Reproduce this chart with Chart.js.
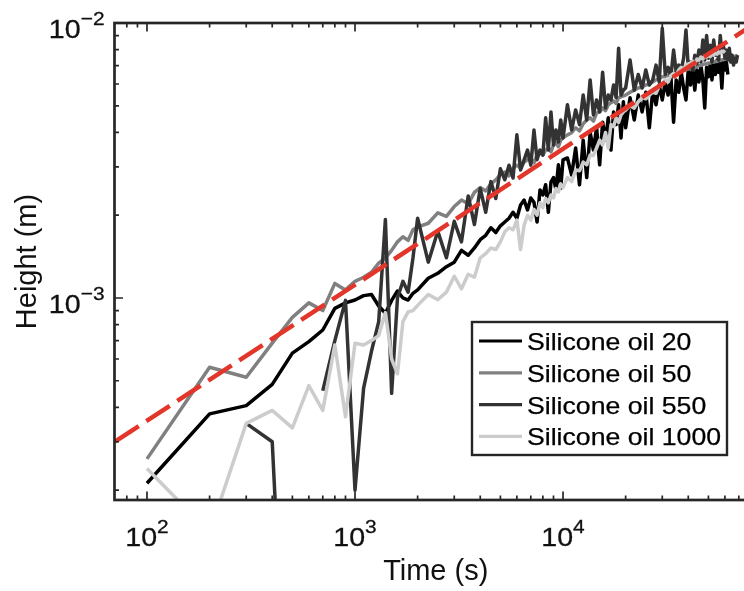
<!DOCTYPE html>
<html><head><meta charset="utf-8">
<script src="https://cdn.jsdelivr.net/npm/chart.js@4/dist/chart.umd.min.js"></script>
<style>html,body{margin:0;padding:0;background:#fff;overflow:hidden;width:744px;height:591px}canvas{display:block}</style>
</head><body>
<canvas id="c" width="800" height="591"></canvas>
<script>
// ---------- data (time in s, height in m) ----------
const TIME = [100,200,300,400,500,600,700,800,900,1000,1100,1200,1300,1400,1500,1600,1700,1800,1900,2000,
2250,2500,2750,3000,3250,3500,3750,4000,4250,4500,4750,5000,5250,5500,5750,6000,6250,6500,6750,7000,7250,7500,7750,8000,8250,8500,8750,9000,9250,9500,9750,10000,
10500,11000,11500,12000,12500,13000,13500,14000,14500,15000,15500,16000,16500,17000,17500,18000,18500,19000,19500,20000,
21000,22000,23000,24000,25000,26000,27000,28000,29000,30000,31000,32000,33000,34000,35000,36000,37000,38000,39000,40000,41000,42000,43000,44000,45000,46000,47000,48000,49000,50000,51000,52000,53000,54000,55000,56000,57000,58000,59000,60000,61000,62000,63000,64000,65000,66000,67000,68000,69000];

const H_OIL20 = [2.12e-4,3.79e-4,4.06e-4,4.85e-4,6.3e-4,6.94e-4,7.65e-4,9.17e-4,9.6e-4,9.83e-4,1.02e-3,1.03e-3,9.35e-4,8.8e-4,9.8e-4,1.06e-3,1.0e-3,9.83e-4,1.04e-3,1.07e-3,
1.18e-3,1.23e-3,1.30e-3,1.35e-3,1.49e-3,1.43e-3,1.52e-3,1.63e-3,1.69e-3,1.80e-3,1.73e-3,1.83e-3,1.89e-3,1.95e-3,2.05e-3,1.95e-3,2.18e-3,2.27e-3,2.09e-3,2.31e-3,2.23e-3,1.89e-3,2.47e-3,2.37e-3,2.58e-3,2.05e-3,2.64e-3,2.74e-3,2.47e-3,3.05e-3,2.51e-3,3.18e-3,
3.23e-3,2.80e-3,3.51e-3,2.58e-3,3.75e-3,2.74e-3,4.0e-3,3.45e-3,4.16e-3,3.05e-3,4.36e-3,3.75e-3,4.52e-3,3.45e-3,4.75e-3,4.27e-3,5.04e-3,3.82e-3,5.17e-3,4.16e-3,
5.35e-3,4.44e-3,5.47e-3,4.75e-3,5.6e-3,4.16e-3,5.7e-3,5.04e-3,5.95e-3,5.25e-3,6.1e-3,5.47e-3,6.38e-3,4.36e-3,6.21e-3,5.6e-3,6.62e-3,5.8e-3,5.25e-3,6.75e-3,5.95e-3,6.9e-3,5.7e-3,6.75e-3,6.1e-3,7.0e-3,6.21e-3,4.91e-3,6.9e-3,6.38e-3,7.1e-3,6.21e-3,7.21e-3,6.5e-3,7.33e-3,6.62e-3,7.21e-3,5.8e-3,7.33e-3,6.75e-3,7.21e-3,6.5e-3,null,null,null,null,null,null,null];

const H_OIL50 = [2.6e-4,5.6e-4,5.15e-4,6.85e-4,8.5e-4,9.6e-4,9.0e-4,1.13e-3,1.07e-3,1.15e-3,1.19e-3,1.24e-3,1.34e-3,1.40e-3,1.49e-3,1.6e-3,1.67e-3,1.62e-3,1.77e-3,1.81e-3,
1.87e-3,2.04e-3,1.98e-3,2.15e-3,2.27e-3,2.2e-3,2.42e-3,2.52e-3,2.45e-3,2.60e-3,2.69e-3,2.81e-3,2.87e-3,2.78e-3,2.97e-3,3.04e-3,2.97e-3,3.12e-3,3.18e-3,3.23e-3,3.1e-3,3.31e-3,3.37e-3,3.31e-3,3.45e-3,3.51e-3,3.4e-3,3.6e-3,3.66e-3,3.55e-3,3.75e-3,3.82e-3,
3.92e-3,3.99e-3,4.16e-3,4.05e-3,4.3e-3,4.44e-3,4.52e-3,4.4e-3,4.71e-3,4.75e-3,4.91e-3,4.8e-3,5.04e-3,5.13e-3,5.21e-3,5.1e-3,5.35e-3,5.39e-3,5.43e-3,5.47e-3,
5.6e-3,5.7e-3,5.8e-3,5.85e-3,5.95e-3,6.0e-3,6.1e-3,6.21e-3,6.27e-3,6.38e-3,6.4e-3,6.45e-3,6.5e-3,6.55e-3,6.6e-3,6.62e-3,6.7e-3,6.75e-3,6.75e-3,6.8e-3,6.85e-3,6.9e-3,6.9e-3,6.95e-3,7.0e-3,7.0e-3,7.05e-3,7.1e-3,7.1e-3,7.15e-3,7.15e-3,7.2e-3,7.2e-3,7.25e-3,7.25e-3,7.3e-3,7.3e-3,7.35e-3,7.35e-3,7.4e-3,7.4e-3,7.45e-3,7.45e-3,7.5e-3,7.5e-3,7.55e-3,7.55e-3,7.6e-3,7.6e-3];

const H_OIL550 = [null,null,3.5e-4,3.0e-4,1e-5,null,4.6e-4,7.0e-4,9.8e-4,2.0e-4,4.7e-4,6.4e-4,8.2e-4,1.93e-3,4.5e-4,1.0e-3,1.15e-3,1.05e-3,1.4e-3,1.95e-3,
1.35e-3,1.75e-3,1.4e-3,1.9e-3,1.6e-3,2.35e-3,1.85e-3,2.5e-3,2.05e-3,2.65e-3,2.3e-3,2.95e-3,2.69e-3,3.04e-3,2.73e-3,3.92e-3,2.92e-3,3.18e-3,3.45e-3,3.04e-3,4.08e-3,3.18e-3,3.45e-3,3.31e-3,4.52e-3,3.45e-3,4.75e-3,3.6e-3,4.08e-3,3.69e-3,4.44e-3,3.82e-3,
5.04e-3,4.08e-3,4.83e-3,4.27e-3,5.47e-3,4.44e-3,6.21e-3,4.63e-3,5.25e-3,4.75e-3,6.62e-3,4.91e-3,5.47e-3,5.25e-3,5.95e-3,5.35e-3,8.1e-3,5.47e-3,5.7e-3,5.8e-3,
7.33e-3,5.7e-3,6.5e-3,5.8e-3,6.75e-3,5.95e-3,6.21e-3,7.03e-3,6.1e-3,9.57e-3,6.5e-3,6.9e-3,6.38e-3,7.97e-3,6.62e-3,7.03e-3,6.75e-3,7.45e-3,9.43e-3,6.9e-3,7.21e-3,6.75e-3,7.64e-3,7.1e-3,7.97e-3,7.21e-3,8.67e-3,7.33e-3,9.0e-3,7.45e-3,8.3e-3,7.21e-3,8.67e-3,7.64e-3,8.1e-3,7.33e-3,9.0e-3,7.85e-3,8.3e-3,7.45e-3,7.97e-3,7.33e-3,8.1e-3,7.21e-3,7.64e-3,7.03e-3,7.45e-3,7.21e-3,7.64e-3];

const H_OIL1000 = [2.4e-4,1.4e-4,3.5e-4,3.9e-4,3.37e-4,4.8e-4,3.9e-4,6.75e-4,3.7e-4,6.85e-4,6.75e-4,7.0e-4,7.3e-4,8.85e-4,6.0e-4,5.3e-4,8.2e-4,8.9e-4,9.0e-4,9.4e-4,
1.03e-3,9.85e-4,1.05e-3,1.2e-3,1.08e-3,1.22e-3,1.19e-3,1.4e-3,1.45e-3,1.52e-3,1.5e-3,1.6e-3,1.74e-3,1.8e-3,1.77e-3,1.92e-3,1.5e-3,1.84e-3,2.0e-3,1.92e-3,2.1e-3,2.0e-3,2.22e-3,2.13e-3,2.3e-3,2.22e-3,2.37e-3,2.31e-3,2.5e-3,2.43e-3,2.6e-3,2.52e-3,
2.74e-3,2.65e-3,2.92e-3,2.9e-3,3.12e-3,3.05e-3,3.31e-3,3.3e-3,3.51e-3,3.75e-3,3.6e-3,4.0e-3,3.51e-3,4.27e-3,4.2e-3,4.52e-3,4.35e-3,4.63e-3,4.75e-3,4.83e-3,
5.0e-3,4.9e-3,5.17e-3,5.35e-3,5.3e-3,5.47e-3,5.6e-3,5.55e-3,5.9e-3,6.0e-3,6.21e-3,6.1e-3,6.45e-3,6.55e-3,6.45e-3,6.75e-3,6.9e-3,6.8e-3,7.03e-3,7.1e-3,7.15e-3,7.27e-3,7.1e-3,7.39e-3,7.33e-3,7.52e-3,7.4e-3,7.58e-3,7.52e-3,7.64e-3,7.55e-3,7.7e-3,7.64e-3,7.78e-3,7.7e-3,7.85e-3,7.78e-3,7.9e-3,7.85e-3,7.97e-3,null,null,null,null,null,null,null,null,null];

// power-law fit line end points
const FIT_T = [50, 100000];
const FIT_H = [2.54e-4, 1.088e-2];

const SERIES_LABELS = ['Silicone oil 20','Silicone oil 50','Silicone oil 550','Silicone oil 1000'];

// ticks
const X_MAJOR = [100, 1000, 10000];
const X_MINOR = [80,90,200,300,400,500,600,700,800,900,2000,3000,4000,5000,6000,7000,8000,9000,20000,30000,40000,50000,60000,70000,80000];
const Y_MAJOR = [1e-3, 1e-2];
const Y_MINOR = [2e-4,3e-4,4e-4,5e-4,6e-4,7e-4,8e-4,9e-4,2e-3,3e-3,4e-3,5e-3,6e-3,7e-3,8e-3,9e-3];
const X_EXP = ['2','3','4'];
const Y_EXP = ['\u22123','\u22122'];

// ---------- styling ----------
const FONT = "'Liberation Sans', Arial, Helvetica, sans-serif";
const AX = '#262626';
const TXT = '#111111';
const COLORS = ['#000000', '#808080', '#333333', '#cccccc'];
const pts = (h) => TIME.map((t, i) => ({x: t, y: h[i]}));
const lineDs = (label, h, color, order) => ({
  label, data: pts(h), borderColor: color, backgroundColor: color, borderWidth: 3.5,
  pointRadius: 0, tension: 0, spanGaps: false, clip: 0, order,
  borderJoinStyle: 'round', borderCapStyle: 'butt'
});

const datasets = [
  lineDs(SERIES_LABELS[0], H_OIL20, COLORS[0], 4),
  lineDs(SERIES_LABELS[1], H_OIL50, COLORS[1], 3),
  lineDs(SERIES_LABELS[2], H_OIL550, COLORS[2], 2),
  lineDs(SERIES_LABELS[3], H_OIL1000, COLORS[3], 1),
  {label: 'fit', data: FIT_T.map((t, i) => ({x: t, y: FIT_H[i]})), borderColor: '#e2362a',
   borderWidth: 4.5, borderDash: [28, 9], pointRadius: 0, clip: 0, order: 0}
];

function boldText(ctx, s, x, y) {
  ctx.fillText(s, x, y);
  ctx.strokeText(s, x, y);
}

function drawPow(ctx, base, exp, x, y, align) {
  const FS = 26, ES = 19, SX = 1.1, RAISE = 12.6;
  ctx.font = FS + 'px ' + FONT;
  const wb = ctx.measureText(base).width;
  ctx.font = ES + 'px ' + FONT;
  const we = ctx.measureText(exp).width;
  const total = (wb + we) * SX;
  const x0 = align === 'center' ? x - total / 2 : x - total;
  ctx.save();
  ctx.translate(x0, y);
  ctx.scale(SX, 1);
  ctx.textAlign = 'left';
  ctx.textBaseline = 'alphabetic';
  ctx.fillStyle = TXT; ctx.strokeStyle = TXT; ctx.lineWidth = 0.3;
  ctx.font = FS + 'px ' + FONT;
  boldText(ctx, base, 0, 0);
  ctx.font = ES + 'px ' + FONT;
  boldText(ctx, exp, wb, -RAISE);
  ctx.restore();
}

const matlabAxes = {
  id: 'matlabAxes',
  afterDatasetsDraw(chart) {
    const {ctx, chartArea: a, scales: {x, y}} = chart;
    ctx.save();
    ctx.strokeStyle = AX;
    ctx.lineCap = 'butt';
    ctx.lineWidth = 1.7;
    const xt = (vals, len) => vals.forEach(v => {
      const p = x.getPixelForValue(v);
      if (p < a.left || p > a.right) return;
      ctx.beginPath();
      ctx.moveTo(p, a.bottom); ctx.lineTo(p, a.bottom - len);
      ctx.moveTo(p, a.top); ctx.lineTo(p, a.top + len);
      ctx.stroke();
    });
    const yt = (vals, len) => vals.forEach(v => {
      const p = y.getPixelForValue(v);
      if (p < a.top || p > a.bottom) return;
      ctx.beginPath();
      ctx.moveTo(a.left, p); ctx.lineTo(a.left + len, p);
      ctx.moveTo(a.right, p); ctx.lineTo(a.right - len, p);
      ctx.stroke();
    });
    xt(X_MINOR, 4.5); xt(X_MAJOR, 8.5);
    yt(Y_MINOR, 4.5); yt(Y_MAJOR, 8.5);
    ctx.lineWidth = 2.7;
    ctx.strokeRect(a.left, a.top, a.right - a.left, a.bottom - a.top);
    ctx.restore();

    // tick labels
    X_MAJOR.forEach((v, i) => drawPow(ctx, '10', X_EXP[i], x.getPixelForValue(v), a.bottom + 45.5, 'center'));
    Y_MAJOR.forEach((v, i) => drawPow(ctx, '10', Y_EXP[i], a.left - 10, y.getPixelForValue(v) + 15, 'right'));

    // legend
    const L = {x: a.left + 357.5, y: a.top + 299, w: 255, h: 133};
    ctx.save();
    ctx.fillStyle = '#ffffff';
    ctx.fillRect(L.x, L.y, L.w, L.h);
    ctx.strokeStyle = AX;
    ctx.lineWidth = 2.4;
    ctx.strokeRect(L.x, L.y, L.w, L.h);
    SERIES_LABELS.forEach((lab, i) => {
      const yc = L.y + 19 + i * 31.8;
      ctx.strokeStyle = chart.data.datasets[i].borderColor;
      ctx.lineWidth = 3.2;
      ctx.beginPath(); ctx.moveTo(L.x + 7, yc); ctx.lineTo(L.x + 50, yc); ctx.stroke();
      ctx.save();
      ctx.translate(L.x + 55, yc + 9);
      ctx.scale(1.11, 1);
      ctx.fillStyle = '#000000'; ctx.strokeStyle = '#000000'; ctx.lineWidth = 0.25;
      ctx.font = '24px ' + FONT;
      ctx.textAlign = 'left'; ctx.textBaseline = 'alphabetic';
      boldText(ctx, lab, 0, 0);
      ctx.restore();
    });
    ctx.restore();
  }
};

new Chart(document.getElementById('c'), {
  type: 'line',
  data: {datasets},
  options: {
    responsive: false, animation: false, devicePixelRatio: 1,
    layout: {padding: {left: 0, top: 23, right: 43, bottom: 0}},
    plugins: {legend: {display: false}, tooltip: {enabled: false}},
    scales: {
      x: {
        type: 'logarithmic', min: 69.8, max: 85600,
        grid: {display: false, drawTicks: false}, border: {display: false},
        ticks: {display: false},
        title: {display: true, text: 'Time (s)', color: TXT, font: {family: FONT, size: 29}, padding: {top: 0, bottom: 1.5}},
        afterFit: (s) => { s.height = 91; }
      },
      y: {
        type: 'logarithmic', min: 1.8424e-4, max: 1e-2,
        grid: {display: false, drawTicks: false}, border: {display: false},
        ticks: {display: false},
        title: {display: true, text: 'Height (m)', color: TXT, font: {family: FONT, size: 29}, padding: {top: 11, bottom: 0}},
        afterFit: (s) => { s.width = 114.5; }
      }
    }
  },
  plugins: [matlabAxes]
});
</script>
</body></html>
